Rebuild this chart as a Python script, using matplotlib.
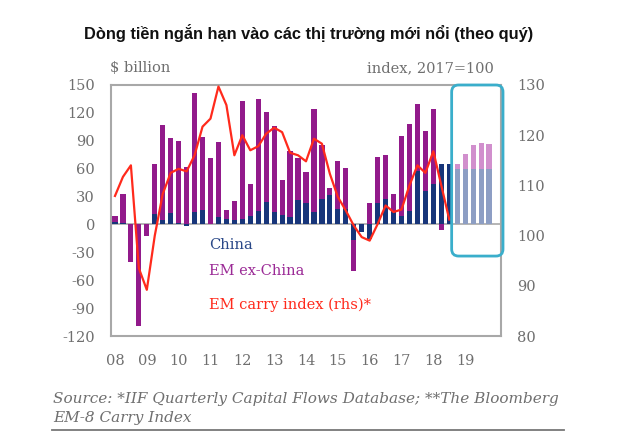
import numpy as np
import matplotlib
matplotlib.use("Agg")
from matplotlib import pyplot as plt
from matplotlib.patches import FancyBboxPatch
from matplotlib.transforms import IdentityTransform
from matplotlib.lines import Line2D

plt.rcParams["axes.unicode_minus"] = False

# Quarterly flows, $ billion, 2008Q1 .. 2018Q3
china = [2.5, 1.5, 1, 1, 0, 11.5, 5, 12.5, 2, -2, 13.6, 16, 0, 8, 5.4, 5,
         6, 8.6, 15, 24, 13.6, 10, 8, 25.8, 23, 13.7, 27, 31.6, 16.6, 16.6,
         -16.8, -8.6, -15.6, 23.5, 27, 14, 9, 14, 58, 36, 44, 65, 65]
ex_china = [6.5, 31, -40, -109, -12.5, 53, 102, 80, 88, 62, 128, 78, 71, 81, 10, 20,
            126.6, 35, 120, 97, 92.4, 37.7, 71.5, 46, 33, 110, 58, 8, 52, 44,
            -33, 0, 23, 49, 48, 18.5, 86, 94, 72, 65, 80.5, -6, 0]
# projection 2018Q4 .. 2019Q4
proj_china = [60, 60, 60, 60, 60]
proj_ex = [5, 16, 25, 27.5, 26.5]
# EM carry index (rhs), 2017=100
carry = [107.9, 111.7, 114, 93.5, 89.2, 100, 108.3, 112.5, 113.3, 112.8, 116,
         121.7, 123.3, 129.7, 126, 116, 120, 117, 117.8, 120.3, 121.5, 120.6,
         116.5, 116, 114.8, 119.3, 118.3, 112.3, 107.7, 105, 102, 99.7, 99,
         102.3, 106, 104.7, 105.2, 110, 114, 112.5, 116.8, 110, 103.2]
years = ["08", "09", "10", "11", "12", "13", "14", "15", "16", "17", "18", "19"]

navy = "#17357a"
purple = "#921a8b"
red = "#ff2a1c"
light_navy = "#8d9ec4"
light_purple = "#d18fcd"
cyan = "#3aaecb"
grey = "#6f6f6f"
frame = "#a8a8a8"
serif = "DejaVu Serif"

fig = plt.figure(figsize=(6.25, 4.33), dpi=100)
ax = fig.add_axes([0.1776, 0.224, 0.624, 0.5797])

def stack(c, e):
    c = np.array(c, dtype=float)
    e = np.array(e, dtype=float)
    bottom = np.where(np.sign(c) == np.sign(e), c, 0.0)
    return c, e, bottom

x = np.arange(len(china))
c, e, b = stack(china, ex_china)
ax.bar(x, c, width=0.65, color=navy, zorder=2)
ax.bar(x, e, bottom=b, width=0.65, color=purple, zorder=2)

xp = np.arange(len(china), len(china) + len(proj_china))
pc = np.array(proj_china, dtype=float)
ax.bar(xp, pc, width=0.65, color=light_navy, zorder=2)
ax.bar(xp, proj_ex, bottom=pc, width=0.65, color=light_purple, zorder=2)

ax.axhline(0, color=frame, lw=1.2, zorder=1)
ax.set_xlim(-0.5, 48.5)
ax.set_ylim(-120, 150)
ax.set_yticks(range(-120, 151, 30))
ax.set_xticks(np.arange(len(years)) * 4)
ax.set_xticklabels(years)
for s in ax.spines.values():
    s.set_color(frame)
    s.set_linewidth(1.5)
ax.tick_params(axis="y", length=0, pad=11.5, labelsize=10.5, labelcolor=grey)
ax.tick_params(axis="x", length=0, pad=13, labelsize=10.5, labelcolor=grey)
for lab in ax.get_xticklabels() + ax.get_yticklabels():
    lab.set_family(serif)

ax2 = ax.twinx()
ax2.plot(x, carry, color=red, lw=1.6, zorder=3)
ax2.set_ylim(80, 130)
ax2.set_yticks(range(80, 131, 10))
for s in ax2.spines.values():
    s.set_visible(False)
ax2.tick_params(axis="y", length=0, pad=11.5, labelsize=10.5, labelcolor=grey)
for lab in ax2.get_yticklabels():
    lab.set_family(serif)

# legend as coloured labels inside the plot
ax.text(11.8, -22, "China", color="#2a4888", fontsize=10.5, family=serif, va="center")
ax.text(11.8, -50, "EM ex-China", color="#9b2a96", fontsize=10.5, family=serif, va="center")
ax.text(11.8, -86, "EM carry index (rhs)*", color=red, fontsize=10.5, family=serif, va="center")

# rounded box round the projection
fig.canvas.draw()
x0, y0 = ax.transData.transform((42.3, -34))
x1, y1 = ax.transData.transform((48.75, 150))
box = FancyBboxPatch((x0, y0), x1 - x0, y1 - y0, boxstyle="round,pad=0,rounding_size=7",
                     transform=IdentityTransform(), fill=False, ec=cyan, lw=2.0,
                     zorder=5, clip_on=False)
fig.patches.append(box)
box.set_figure(fig)

fig.text(0.494, 0.923, "Dòng tiền ngắn hạn vào các thị trường mới nổi (theo quý)",
         ha="center", va="center", fontsize=11.8, fontweight="bold",
         family=["Liberation Sans", "DejaVu Sans"], color="#111111")
fig.text(0.176, 0.843, "$ billion", ha="left", va="center", fontsize=10.5,
         family=serif, color=grey)
fig.text(0.79, 0.843, "index, 2017=100", ha="right", va="center", fontsize=10.5,
         family=serif, color=grey)
fig.text(0.085, 0.057, "Source: *IIF Quarterly Capital Flows Database; **The Bloomberg\nEM-8 Carry Index",
         ha="left", va="center", fontsize=11, family=serif, style="italic",
         color=grey, linespacing=1.4)
fig.add_artist(Line2D([0.083, 0.903], [0.007, 0.007], color="#777777", lw=1.3))

fig.savefig("out.png", dpi=100)
